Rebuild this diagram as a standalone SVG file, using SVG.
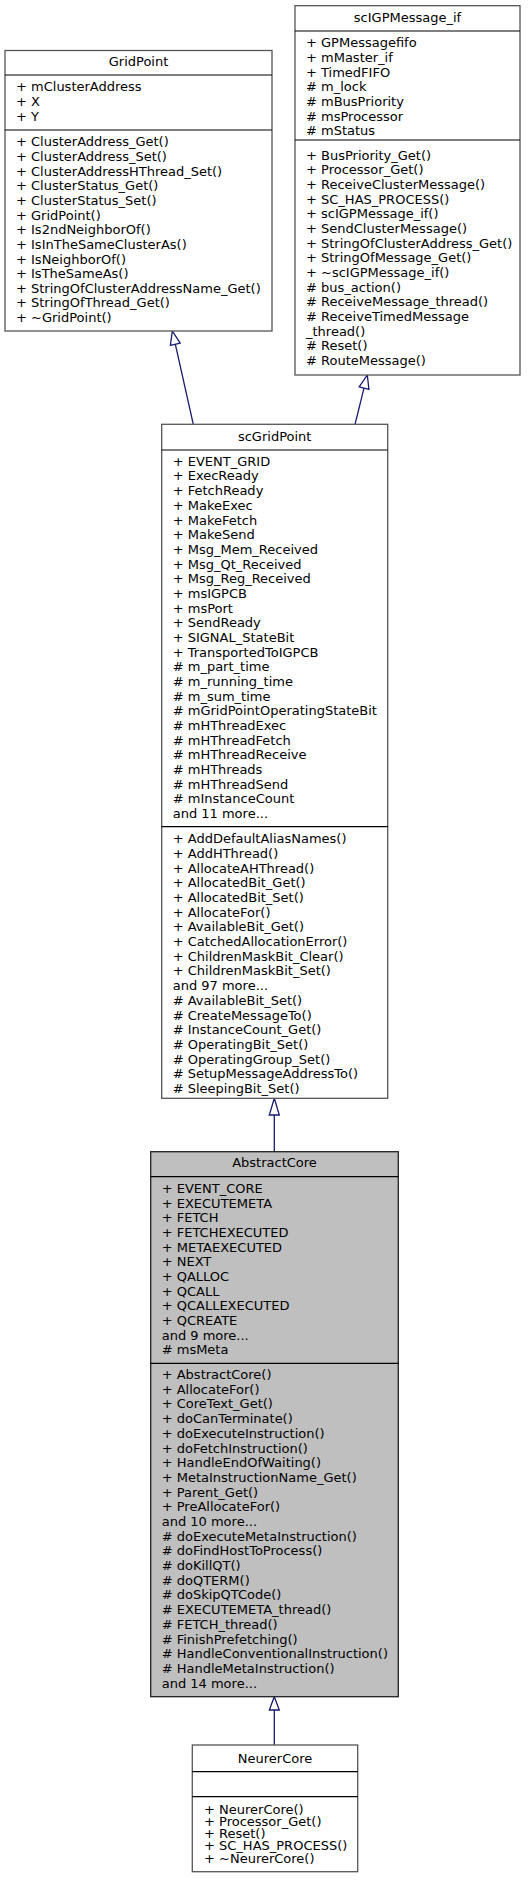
<svg xmlns="http://www.w3.org/2000/svg" width="530" height="1887" viewBox="0 0 530 1887">
<style>
text{font-family:"DejaVu Sans","Liberation Sans",sans-serif;font-size:13px;fill:#000}
.t{text-anchor:middle}
.box{fill:#fff;stroke:#555;stroke-width:1.3}
.cur{fill:#bfbfbf;stroke:#222;stroke-width:1.3}
.sep{stroke:#000;stroke-width:1.2;fill:none}
.edge{stroke:#191970;stroke-width:1.3;fill:none}
.head{stroke:#191970;stroke-width:1.3;fill:#fff}
</style>
<rect width="530" height="1887" fill="#fff"/>
<g id="connectors">
<line class="edge" x1="175.3" y1="344.2" x2="193.3" y2="424.3"/>
<polygon class="head" points="172.3,331 180.2,343.1 170.4,345.3"/>
<line class="edge" x1="364" y1="388.1" x2="355" y2="424.3"/>
<polygon class="head" points="367.3,375 368.9,389.3 359.2,386.9"/>
<line class="edge" x1="274.3" y1="1115" x2="274.3" y2="1151.7"/>
<polygon class="head" points="274.3,1098.3 279.3,1115 269.3,1115"/>
<line class="edge" x1="274.3" y1="1710" x2="274.3" y2="1745"/>
<polygon class="head" points="274.3,1696.7 279.3,1710 269.3,1710"/>
</g>
<g id="GridPoint">
<rect class="box" x="5" y="50.5" width="267" height="280.5"/>
<line class="sep" x1="5" y1="75" x2="272" y2="75"/>
<line class="sep" x1="5" y1="130" x2="272" y2="130"/>
<text class="t" x="138.5" y="66.3">GridPoint</text>
<text x="16" y="91.3">+ mClusterAddress</text>
<text x="16" y="106">+ X</text>
<text x="16" y="120.6">+ Y</text>
<text x="16" y="146.3">+ ClusterAddress_Get()</text>
<text x="16" y="160.95">+ ClusterAddress_Set()</text>
<text x="16" y="175.6">+ ClusterAddressHThread_Set()</text>
<text x="16" y="190.25">+ ClusterStatus_Get()</text>
<text x="16" y="204.9">+ ClusterStatus_Set()</text>
<text x="16" y="219.55">+ GridPoint()</text>
<text x="16" y="234.2">+ Is2ndNeighborOf()</text>
<text x="16" y="248.85">+ IsInTheSameClusterAs()</text>
<text x="16" y="263.5">+ IsNeighborOf()</text>
<text x="16" y="278.15">+ IsTheSameAs()</text>
<text x="16" y="292.8">+ StringOfClusterAddressName_Get()</text>
<text x="16" y="307.45">+ StringOfThread_Get()</text>
<text x="16" y="322.1">+ ~GridPoint()</text>
</g>
<g id="scIGPMessage_if">
<rect class="box" x="295" y="5.7" width="225" height="369.3"/>
<line class="sep" x1="295" y1="31" x2="520" y2="31"/>
<line class="sep" x1="295" y1="140" x2="520" y2="140"/>
<text class="t" x="407.5" y="22.3">scIGPMessage_if</text>
<text x="306" y="47.3">+ GPMessagefifo</text>
<text x="306" y="61.95">+ mMaster_if</text>
<text x="306" y="76.6">+ TimedFIFO</text>
<text x="306" y="91.25"># m_lock</text>
<text x="306" y="105.9"># mBusPriority</text>
<text x="306" y="120.55"># msProcessor</text>
<text x="306" y="135.2"># mStatus</text>
<text x="306" y="159.8">+ BusPriority_Get()</text>
<text x="306" y="174.45">+ Processor_Get()</text>
<text x="306" y="189.1">+ ReceiveClusterMessage()</text>
<text x="306" y="203.75">+ SC_HAS_PROCESS()</text>
<text x="306" y="218.4">+ scIGPMessage_if()</text>
<text x="306" y="233.05">+ SendClusterMessage()</text>
<text x="306" y="247.7">+ StringOfClusterAddress_Get()</text>
<text x="306" y="262.35">+ StringOfMessage_Get()</text>
<text x="306" y="277">+ ~scIGPMessage_if()</text>
<text x="306" y="291.65"># bus_action()</text>
<text x="306" y="306.3"># ReceiveMessage_thread()</text>
<text x="306" y="320.95"># ReceiveTimedMessage</text>
<text x="306" y="335.6">_thread()</text>
<text x="306" y="350.25"># Reset()</text>
<text x="306" y="364.9"># RouteMessage()</text>
</g>
<g id="scGridPoint">
<rect class="box" x="161.7" y="424.3" width="226" height="674"/>
<line class="sep" x1="161.7" y1="450" x2="387.7" y2="450"/>
<line class="sep" x1="161.7" y1="826.7" x2="387.7" y2="826.7"/>
<text class="t" x="274.7" y="441.3">scGridPoint</text>
<text x="172.7" y="465.8">+ EVENT_GRID</text>
<text x="172.7" y="480.48">+ ExecReady</text>
<text x="172.7" y="495.16">+ FetchReady</text>
<text x="172.7" y="509.84">+ MakeExec</text>
<text x="172.7" y="524.52">+ MakeFetch</text>
<text x="172.7" y="539.2">+ MakeSend</text>
<text x="172.7" y="553.88">+ Msg_Mem_Received</text>
<text x="172.7" y="568.56">+ Msg_Qt_Received</text>
<text x="172.7" y="583.24">+ Msg_Reg_Received</text>
<text x="172.7" y="597.92">+ msIGPCB</text>
<text x="172.7" y="612.6">+ msPort</text>
<text x="172.7" y="627.28">+ SendReady</text>
<text x="172.7" y="641.96">+ SIGNAL_StateBit</text>
<text x="172.7" y="656.64">+ TransportedToIGPCB</text>
<text x="172.7" y="671.32"># m_part_time</text>
<text x="172.7" y="686"># m_running_time</text>
<text x="172.7" y="700.68"># m_sum_time</text>
<text x="172.7" y="715.36"># mGridPointOperatingStateBit</text>
<text x="172.7" y="730.04"># mHThreadExec</text>
<text x="172.7" y="744.72"># mHThreadFetch</text>
<text x="172.7" y="759.4"># mHThreadReceive</text>
<text x="172.7" y="774.08"># mHThreads</text>
<text x="172.7" y="788.76"># mHThreadSend</text>
<text x="172.7" y="803.44"># mInstanceCount</text>
<text x="172.7" y="818.12">and 11 more...</text>
<text x="172.7" y="843.1">+ AddDefaultAliasNames()</text>
<text x="172.7" y="857.8">+ AddHThread()</text>
<text x="172.7" y="872.5">+ AllocateAHThread()</text>
<text x="172.7" y="887.2">+ AllocatedBit_Get()</text>
<text x="172.7" y="901.9">+ AllocatedBit_Set()</text>
<text x="172.7" y="916.6">+ AllocateFor()</text>
<text x="172.7" y="931.3">+ AvailableBit_Get()</text>
<text x="172.7" y="946">+ CatchedAllocationError()</text>
<text x="172.7" y="960.7">+ ChildrenMaskBit_Clear()</text>
<text x="172.7" y="975.4">+ ChildrenMaskBit_Set()</text>
<text x="172.7" y="990.1">and 97 more...</text>
<text x="172.7" y="1004.8"># AvailableBit_Set()</text>
<text x="172.7" y="1019.5"># CreateMessageTo()</text>
<text x="172.7" y="1034.2"># InstanceCount_Get()</text>
<text x="172.7" y="1048.9"># OperatingBit_Set()</text>
<text x="172.7" y="1063.6"># OperatingGroup_Set()</text>
<text x="172.7" y="1078.3"># SetupMessageAddressTo()</text>
<text x="172.7" y="1093"># SleepingBit_Set()</text>
</g>
<g id="AbstractCore">
<rect class="cur" x="150.7" y="1151.7" width="247.6" height="545"/>
<line class="sep" x1="150.7" y1="1176.7" x2="398.3" y2="1176.7"/>
<line class="sep" x1="150.7" y1="1363.3" x2="398.3" y2="1363.3"/>
<text class="t" x="274.5" y="1167.1">AbstractCore</text>
<text x="161.7" y="1193.1">+ EVENT_CORE</text>
<text x="161.7" y="1207.74">+ EXECUTEMETA</text>
<text x="161.7" y="1222.38">+ FETCH</text>
<text x="161.7" y="1237.02">+ FETCHEXECUTED</text>
<text x="161.7" y="1251.66">+ METAEXECUTED</text>
<text x="161.7" y="1266.3">+ NEXT</text>
<text x="161.7" y="1280.94">+ QALLOC</text>
<text x="161.7" y="1295.58">+ QCALL</text>
<text x="161.7" y="1310.22">+ QCALLEXECUTED</text>
<text x="161.7" y="1324.86">+ QCREATE</text>
<text x="161.7" y="1339.5">and 9 more...</text>
<text x="161.7" y="1354.14"># msMeta</text>
<text x="161.7" y="1379.1">+ AbstractCore()</text>
<text x="161.7" y="1393.79">+ AllocateFor()</text>
<text x="161.7" y="1408.48">+ CoreText_Get()</text>
<text x="161.7" y="1423.17">+ doCanTerminate()</text>
<text x="161.7" y="1437.86">+ doExecuteInstruction()</text>
<text x="161.7" y="1452.55">+ doFetchInstruction()</text>
<text x="161.7" y="1467.24">+ HandleEndOfWaiting()</text>
<text x="161.7" y="1481.93">+ MetaInstructionName_Get()</text>
<text x="161.7" y="1496.62">+ Parent_Get()</text>
<text x="161.7" y="1511.31">+ PreAllocateFor()</text>
<text x="161.7" y="1526">and 10 more...</text>
<text x="161.7" y="1540.69"># doExecuteMetaInstruction()</text>
<text x="161.7" y="1555.38"># doFindHostToProcess()</text>
<text x="161.7" y="1570.07"># doKillQT()</text>
<text x="161.7" y="1584.76"># doQTERM()</text>
<text x="161.7" y="1599.45"># doSkipQTCode()</text>
<text x="161.7" y="1614.14"># EXECUTEMETA_thread()</text>
<text x="161.7" y="1628.83"># FETCH_thread()</text>
<text x="161.7" y="1643.52"># FinishPrefetching()</text>
<text x="161.7" y="1658.21"># HandleConventionalInstruction()</text>
<text x="161.7" y="1672.9"># HandleMetaInstruction()</text>
<text x="161.7" y="1687.59">and 14 more...</text>
</g>
<g id="NeurerCore">
<rect class="box" x="192.3" y="1745" width="165.4" height="126.7"/>
<line class="sep" x1="192.3" y1="1771.7" x2="357.7" y2="1771.7"/>
<line class="sep" x1="192.3" y1="1796.7" x2="357.7" y2="1796.7"/>
<text class="t" x="275" y="1763">NeurerCore</text>
<text x="204" y="1813.5">+ NeurerCore()</text>
<text x="204" y="1825.75">+ Processor_Get()</text>
<text x="204" y="1838">+ Reset()</text>
<text x="204" y="1850.25">+ SC_HAS_PROCESS()</text>
<text x="204" y="1862.5">+ ~NeurerCore()</text>
</g>
</svg>
